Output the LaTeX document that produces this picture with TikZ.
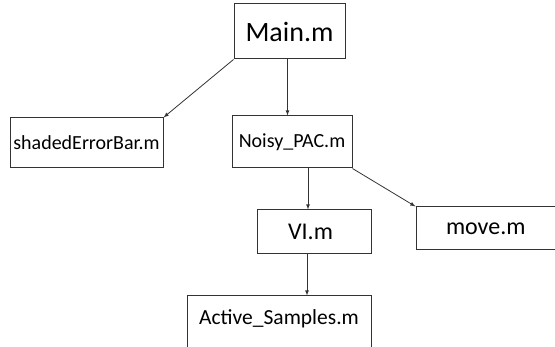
\documentclass[tikz,border=0pt]{standalone}
\usepackage{fontspec}
\setmainfont{Carlito}
\usetikzlibrary{arrows,positioning}
\tikzset{filebox/.style={rectangle,draw=black!80,line width=1pt,inner sep=0pt,font=\fontsize{20}{24}\selectfont}}
\tikzset{call/.style={-latex,draw=black!80,line width=0.8pt}}

\begin{document}
\begin{tikzpicture}[x=1pt,y=-1pt]
\useasboundingbox (0,0) rectangle (555,347);
% \draw[help lines] (0,0) grid (555,347);
\node (main) [filebox,minimum width=111pt,minimum height=55pt,font=\fontsize{28}{32}\selectfont] at (289.5,31.5) {Main.m};
\node (shaded) [filebox,minimum width=153pt,minimum height=50pt] at (86.5,143) {shadedErrorBar.m};
\node (noisy) [filebox,minimum width=120pt,minimum height=52pt] at (292,142) {Noisy\_PAC.m};
\node (vi) [filebox,minimum width=114pt,minimum height=44pt,font=\fontsize{24}{28}\selectfont] at (314,232) {\hspace{-7pt}VI.m};
\node (move) [filebox,minimum width=150pt,minimum height=43pt,text width=150pt,align=left,font=\fontsize{24}{28}\selectfont] at (491,228.5) {\hspace{30pt}move.m};
\node (active) [filebox,minimum width=184pt,minimum height=56pt,text depth=14pt,font=\fontsize{21.5}{25}\selectfont] at (279,324) {Active\_Samples.m};
%
\draw[call] (main.south west) -- (shaded.north east);
\draw[call] ([xshift=-2pt]main.south) -- ([xshift=-2pt]main.south |- noisy.north);
\draw[call] ([xshift=16pt]noisy.south) -- ([xshift=16pt]noisy.south |- vi.north);
\draw[call] (noisy.south east) -- (move.north west);
\draw[call] ([xshift=-7pt]vi.south) -- ([xshift=-7pt]vi.south |- active.north);
\end{tikzpicture}
\end{document}
